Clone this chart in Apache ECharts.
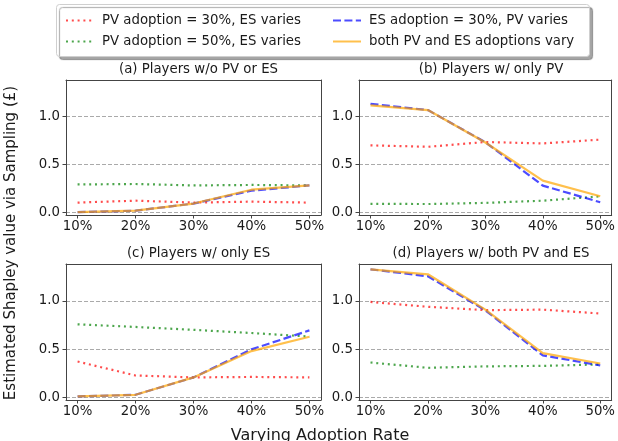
<!DOCTYPE html>
<html>
<head>
<meta charset="utf-8">
<script src="https://cdn.jsdelivr.net/npm/echarts@6/dist/echarts.min.js"></script>
<style>
  html, body { margin: 0; padding: 0; background: #fff; }
  #chart { width: 618px; height: 441px; }
</style>
</head>
<body>
<div id="chart"></div>
<script>
// Adoption rates on the x axis (percent)
const adoptionRates = [10, 20, 30, 40, 50];
const yTickValues = [0, 0.5, 1.0];

const panelTitles = [
  '(a) Players w/o PV or ES',
  '(b) Players w/ only PV',
  '(c) Players w/ only ES',
  '(d) Players w/ both PV and ES'
];

const seriesNames = [
  'PV adoption = 30%, ES varies',
  'PV adoption = 50%, ES varies',
  'ES adoption = 30%, PV varies',
  'both PV and ES adoptions vary'
];

// (a) Players w/o PV or ES
const noneRedPV30   = [0.10, 0.12, 0.10, 0.11, 0.10];
const noneGreenPV50 = [0.29, 0.295, 0.28, 0.285, 0.28];
const noneBlueES30  = [0.0, 0.015, 0.09, 0.225, 0.28];
const noneOrangeAll = [0.0, 0.015, 0.09, 0.235, 0.28];

// (b) Players w/ only PV
const pvRedPV30   = [0.70, 0.685, 0.735, 0.72, 0.76];
const pvGreenPV50 = [0.087, 0.085, 0.097, 0.12, 0.165];
const pvBlueES30  = [1.135, 1.07, 0.733, 0.278, 0.104];
const pvOrangeAll = [1.12, 1.07, 0.73, 0.33, 0.167];

// (c) Players w/ only ES
const esRedPV30   = [0.37, 0.225, 0.205, 0.21, 0.205];
const esGreenPV50 = [0.757, 0.73, 0.70, 0.667, 0.63];
const esBlueES30  = [0.007, 0.024, 0.205, 0.497, 0.694];
const esOrangeAll = [0.007, 0.024, 0.205, 0.479, 0.628];

// (d) Players w/ both PV and ES
const bothRedPV30   = [0.99, 0.94, 0.905, 0.91, 0.87];
const bothGreenPV50 = [0.36, 0.305, 0.32, 0.325, 0.34];
const bothBlueES30  = [1.33, 1.257, 0.903, 0.434, 0.33];
const bothOrangeAll = [1.33, 1.278, 0.91, 0.458, 0.35];

const panels = [
  [noneRedPV30, noneGreenPV50, noneBlueES30, noneOrangeAll],
  [pvRedPV30, pvGreenPV50, pvBlueES30, pvOrangeAll],
  [esRedPV30, esGreenPV50, esBlueES30, esOrangeAll],
  [bothRedPV30, bothGreenPV50, bothBlueES30, bothOrangeAll]
];

const FONT = 'DejaVu Sans';
const TEXT = '#1a1a1a';
const AXIS = '#444';
const SMALL = 13.3;

const lineStyles = [
  { color: 'rgba(255,0,0,0.7)',   width: 2.2, type: [2, 3.8], cap: 'butt' },
  { color: 'rgba(0,128,0,0.7)',   width: 2.2, type: [2, 3.8], cap: 'butt' },
  { color: 'rgba(0,0,255,0.7)',   width: 2.2, type: [8, 3.4], cap: 'butt' },
  { color: 'rgba(255,165,0,0.7)', width: 2.2, type: 'solid', cap: 'butt' }
];

const grids = [
  { left: 66,  top: 80,  width: 255, height: 135 },
  { left: 359, top: 80,  width: 254, height: 135 },
  { left: 66,  top: 264, width: 255, height: 136 },
  { left: 359, top: 264, width: 254, height: 136 }
];

const xAxes = grids.map((g, i) => ({
  type: 'value', gridIndex: i, min: 8, max: 52,
  axisLine: { show: true, onZero: false, lineStyle: { color: AXIS, width: 1 } },
  axisTick: { show: true, length: 3.5, inside: false, customValues: adoptionRates,
              lineStyle: { color: AXIS, width: 1 } },
  axisLabel: { customValues: adoptionRates, formatter: v => v + '%', margin: 5,
               fontFamily: FONT, fontSize: SMALL, color: TEXT },
  splitLine: { show: false }
}));

const yAxes = grids.map((g, i) => ({
  type: 'value', gridIndex: i, min: -0.03, max: 1.385,
  axisLine: { show: true, lineStyle: { color: AXIS, width: 1 } },
  axisTick: { show: true, length: 3.5, inside: false, customValues: yTickValues,
              lineStyle: { color: AXIS, width: 1 } },
  axisLabel: { customValues: yTickValues, formatter: v => v.toFixed(1), margin: 6,
               fontFamily: FONT, fontSize: SMALL, color: TEXT },
  splitLine: { show: true, lineStyle: { color: '#aaa', width: 1, type: [4, 2] } }
}));

// Frame lines on the top and right of each panel
const xAxesTop = grids.map((g, i) => ({
  type: 'value', gridIndex: i, position: 'top', min: 8, max: 52,
  axisLine: { show: true, onZero: false, lineStyle: { color: AXIS, width: 1 } },
  axisTick: { show: false }, axisLabel: { show: false }, splitLine: { show: false }
}));
const yAxesRight = grids.map((g, i) => ({
  type: 'value', gridIndex: i, position: 'right', min: -0.03, max: 1.385,
  axisLine: { show: true, onZero: false, lineStyle: { color: AXIS, width: 1 } },
  axisTick: { show: false }, axisLabel: { show: false }, splitLine: { show: false }
}));

const series = [];
panels.forEach((panelData, p) => {
  panelData.forEach((values, k) => {
    series.push({
      type: 'line',
      name: seriesNames[k],
      xAxisIndex: p,
      yAxisIndex: p,
      data: adoptionRates.map((x, j) => [x, values[j]]),
      showSymbol: false,
      symbol: 'none',
      itemStyle: { color: lineStyles[k].color },
      lineStyle: lineStyles[k],
      z: 3 + k,
      animation: false
    });
  });
});

const titles = grids.map((g, i) => ({
  text: panelTitles[i],
  left: g.left + g.width / 2,
  top: g.top - 22,
  textAlign: 'center',
  textStyle: { fontFamily: FONT, fontSize: SMALL, fontWeight: 'normal', color: TEXT }
}));

const legendCommon = {
  orient: 'vertical',
  itemWidth: 28, itemHeight: 10, itemGap: 8,
  itemStyle: { opacity: 0 },
  textStyle: { fontFamily: FONT, fontSize: SMALL, color: TEXT, padding: [0, 0, 0, 3] },
  selectedMode: false
};

const chart = echarts.init(document.getElementById('chart'), null, { renderer: 'canvas' });
chart.setOption({
  animation: false,
  backgroundColor: '#fff',
  title: titles,
  grid: grids,
  xAxis: xAxes.concat(xAxesTop),
  yAxis: yAxes.concat(yAxesRight),
  legend: [
    Object.assign({}, legendCommon, { left: 60, top: 9, data: [seriesNames[0], seriesNames[1]] }),
    Object.assign({}, legendCommon, { left: 327, top: 9, data: [seriesNames[2], seriesNames[3]] })
  ],
  graphic: [
    {
      type: 'rect', left: 56, top: 4, z: -1,
      shape: { width: 533, height: 52, r: 3 },
      style: { fill: '#fff', stroke: '#cfcfcf', lineWidth: 1,
               shadowColor: 'rgba(0,0,0,0.35)', shadowOffsetX: 3, shadowOffsetY: 3, shadowBlur: 1 }
    },
    {
      type: 'text', x: 11, y: 243, rotation: Math.PI / 2,
      style: { text: 'Estimated Shapley value via Sampling (£)', fontFamily: FONT, fontSize: 15,
               fill: TEXT, align: 'center', verticalAlign: 'middle' }
    },
    {
      type: 'text', x: 320, y: 436,
      style: { text: 'Varying Adoption Rate', fontFamily: FONT, fontSize: 16,
               fill: TEXT, align: 'center', verticalAlign: 'middle' }
    }
  ],
  series: series
});
</script>
</body>
</html>
